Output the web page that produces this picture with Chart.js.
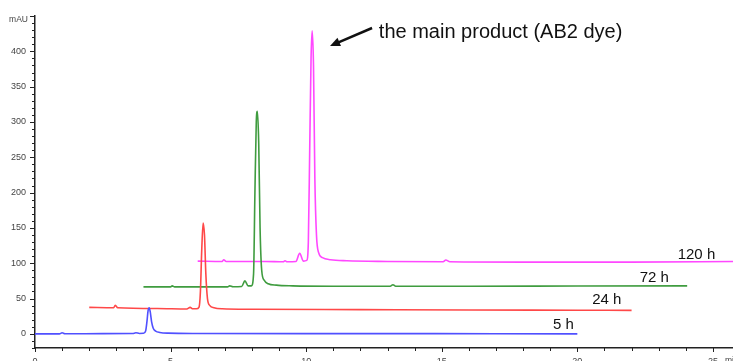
<!DOCTYPE html>
<html><head><meta charset="utf-8">
<script src="https://cdn.jsdelivr.net/npm/chart.js@4/dist/chart.umd.min.js"></script>
<style>html,body{margin:0;padding:0;background:#fff;overflow:hidden}#wrap{width:733px;height:361px;position:relative}</style>
</head><body><div id="wrap"><canvas id="c" width="733" height="361"></canvas></div>
<script>
// ---- data (retention time in min, absorbance in mAU) ----
const seriesNames = ['5 h', '24 h', '72 h', '120 h'];
const t5   = [0, 0.9, 1.0, 1.1, 2.5, 3.6, 3.72, 3.85, 4.0, 4.08, 4.13, 4.17, 4.21, 4.25, 4.3, 4.36, 4.45, 4.6, 4.9, 6, 10, 14, 17, 20];
const v5   = [0, 0, 1.5, 0.2, 0.3, 0.5, 1.6, 0.6, 0.8, 4, 18, 33, 37, 31, 17, 8, 4, 2, 1, 0.6, 0.3, 0.3, 0.2, 0];
const t24  = [2.0, 2.9, 2.96, 3.05, 4.5, 5.6, 5.72, 5.82, 5.95, 6.05, 6.1, 6.15, 6.2, 6.25, 6.3, 6.36, 6.45, 6.6, 6.9, 8, 12, 16, 20, 22];
const v24  = [37.5, 37, 40.5, 37, 36, 35.3, 37.5, 35.5, 35.5, 38, 60, 120, 157, 140, 85, 50, 40, 37, 35.5, 34.8, 34.3, 33.8, 33.5, 33.3];
const t72  = [4.0, 5.0, 5.06, 5.15, 6.5, 7.1, 7.18, 7.3, 7.62, 7.74, 7.86, 7.98, 8.06, 8.11, 8.16, 8.2, 8.25, 8.3, 8.36, 8.45, 8.6, 8.9, 9.5, 11, 13.1, 13.2, 13.3, 16, 20, 24.05];
const v72  = [66.5, 66.5, 68, 66.5, 66.5, 66.5, 68, 66.7, 67, 75, 68, 68, 85, 200, 300, 315, 270, 150, 90, 76, 71, 69, 68, 67.5, 67.5, 69.5, 67.5, 67.5, 67.8, 68];
const t120 = [6.0, 6.9, 6.96, 7.05, 8.5, 9.15, 9.22, 9.3, 9.62, 9.76, 9.9, 10.02, 10.08, 10.13, 10.18, 10.22, 10.27, 10.32, 10.38, 10.46, 10.6, 10.9, 11.5, 13, 15.05, 15.15, 15.3, 18, 22, 25.8];
const v120 = [103, 102.5, 105, 102.5, 102.5, 102, 103.5, 102, 102.5, 114, 103, 104, 130, 260, 390, 429, 380, 220, 140, 115, 108, 105, 103.5, 102.5, 102, 104.5, 102, 101.5, 101.5, 102.5];
const xTickLabels = [0, 5, 10, 15, 20, 25];
const yTickLabels = [0, 50, 100, 150, 200, 250, 300, 350, 400];
const annotationText = 'the main product (AB2 dye)';
const yUnit = 'mAU';
const xUnit = 'min';

const colors = ['#5050ff', '#ff4848', '#3f9c3f', '#ff48ff'];
const toPts = (t, v) => t.map((x, i) => ({x: x, y: v[i]}));
const allT = [t5, t24, t72, t120], allV = [v5, v24, v72, v120];

const datasets = seriesNames.map((n, i) => ({
  label: n, data: toPts(allT[i], allV[i]), borderColor: colors[i],
  borderWidth: 1.6, pointRadius: 0, cubicInterpolationMode: 'monotone', fill: false
}));

const decor = {
  id: 'decor',
  afterDraw(chart) {
    const ctx = chart.ctx, xs = chart.scales.x, ys = chart.scales.y;
    const ca = chart.chartArea;
    ctx.save();
    ctx.strokeStyle = '#222'; ctx.lineWidth = 1;
    for (let v = -20; v <= 450; v += 10) {
      const p = Math.round(ys.getPixelForValue(v)) + 0.5;
      const len = (v % 50 === 0) ? 5 : 3;
      ctx.beginPath(); ctx.moveTo(ca.left - len, p); ctx.lineTo(ca.left, p); ctx.stroke();
    }
    for (let v = 0; v <= 25; v += 1) {
      const p = Math.round(xs.getPixelForValue(v)) + 0.5;
      const len = (v % 5 === 0) ? 4 : 3;
      ctx.beginPath(); ctx.moveTo(p, ca.bottom); ctx.lineTo(p, ca.bottom + len); ctx.stroke();
    }
    ctx.fillStyle = '#444';
    ctx.font = '8.5px "Liberation Sans", Arial, sans-serif';
    ctx.textAlign = 'right'; ctx.textBaseline = 'middle';
    ctx.fillText(yUnit, ca.left - 7, ys.getPixelForValue(450) + 4);
    ctx.textAlign = 'left'; ctx.textBaseline = 'top';
    ctx.fillText(xUnit, 725, ca.bottom + 8);
    ctx.fillStyle = '#111';
    ctx.font = '15px "Liberation Sans", Arial, sans-serif';
    ctx.textAlign = 'left'; ctx.textBaseline = 'middle';
    const lp = [[19.1, 12.5], [20.55, 48], [22.3, 79], [23.7, 112]];
    seriesNames.forEach((n, i) => {
      ctx.fillText(n, xs.getPixelForValue(lp[i][0]), ys.getPixelForValue(lp[i][1]));
    });
    ctx.font = '20px "Liberation Sans", Arial, sans-serif';
    ctx.fillText(annotationText, xs.getPixelForValue(12.68), ys.getPixelForValue(426));
    const x1 = xs.getPixelForValue(12.43), y1 = ys.getPixelForValue(433);
    const x2 = xs.getPixelForValue(10.88), y2 = ys.getPixelForValue(407.7);
    const ang = Math.atan2(y2 - y1, x2 - x1);
    ctx.strokeStyle = '#111'; ctx.fillStyle = '#111'; ctx.lineWidth = 2.5;
    ctx.beginPath(); ctx.moveTo(x1, y1); ctx.lineTo(x2 - 6 * Math.cos(ang), y2 - 6 * Math.sin(ang)); ctx.stroke();
    ctx.beginPath();
    ctx.moveTo(x2, y2);
    ctx.lineTo(x2 - 10 * Math.cos(ang) + 4.5 * Math.sin(ang), y2 - 10 * Math.sin(ang) - 4.5 * Math.cos(ang));
    ctx.lineTo(x2 - 10 * Math.cos(ang) - 4.5 * Math.sin(ang), y2 - 10 * Math.sin(ang) + 4.5 * Math.cos(ang));
    ctx.closePath(); ctx.fill();
    ctx.restore();
  }
};

new Chart(document.getElementById('c'), {
  type: 'line',
  data: { datasets: datasets },
  options: {
    responsive: false, animation: false, events: [],
    layout: { padding: { top: 16, right: 0, left: 0, bottom: 0 } },
    plugins: { legend: { display: false }, tooltip: { enabled: false } },
    scales: {
      x: {
        type: 'linear', min: 0, max: 25.74, position: 'bottom',
        afterFit: s => { s.height = 13; },
        afterBuildTicks: s => { s.ticks = xTickLabels.map(v => ({ value: v })); },
        grid: { display: true, drawOnChartArea: false, tickLength: 4, tickColor: 'rgba(0,0,0,0)' },
        border: { display: true, color: '#222', width: 1.5 },
        ticks: { autoSkip: false, maxRotation: 0, padding: 4, color: '#444', font: { size: 9, family: '"Liberation Sans", Arial, sans-serif' } }
      },
      y: {
        type: 'linear', min: -20, max: 450,
        afterFit: s => { s.width = 35; },
        afterBuildTicks: s => { s.ticks = yTickLabels.map(v => ({ value: v })); },
        grid: { display: true, drawOnChartArea: false, tickLength: 5, tickColor: 'rgba(0,0,0,0)' },
        border: { display: true, color: '#222', width: 1.5 },
        ticks: { autoSkip: false, padding: 4, color: '#444', font: { size: 9, family: '"Liberation Sans", Arial, sans-serif' } }
      }
    }
  },
  plugins: [decor]
});
</script></body></html>
